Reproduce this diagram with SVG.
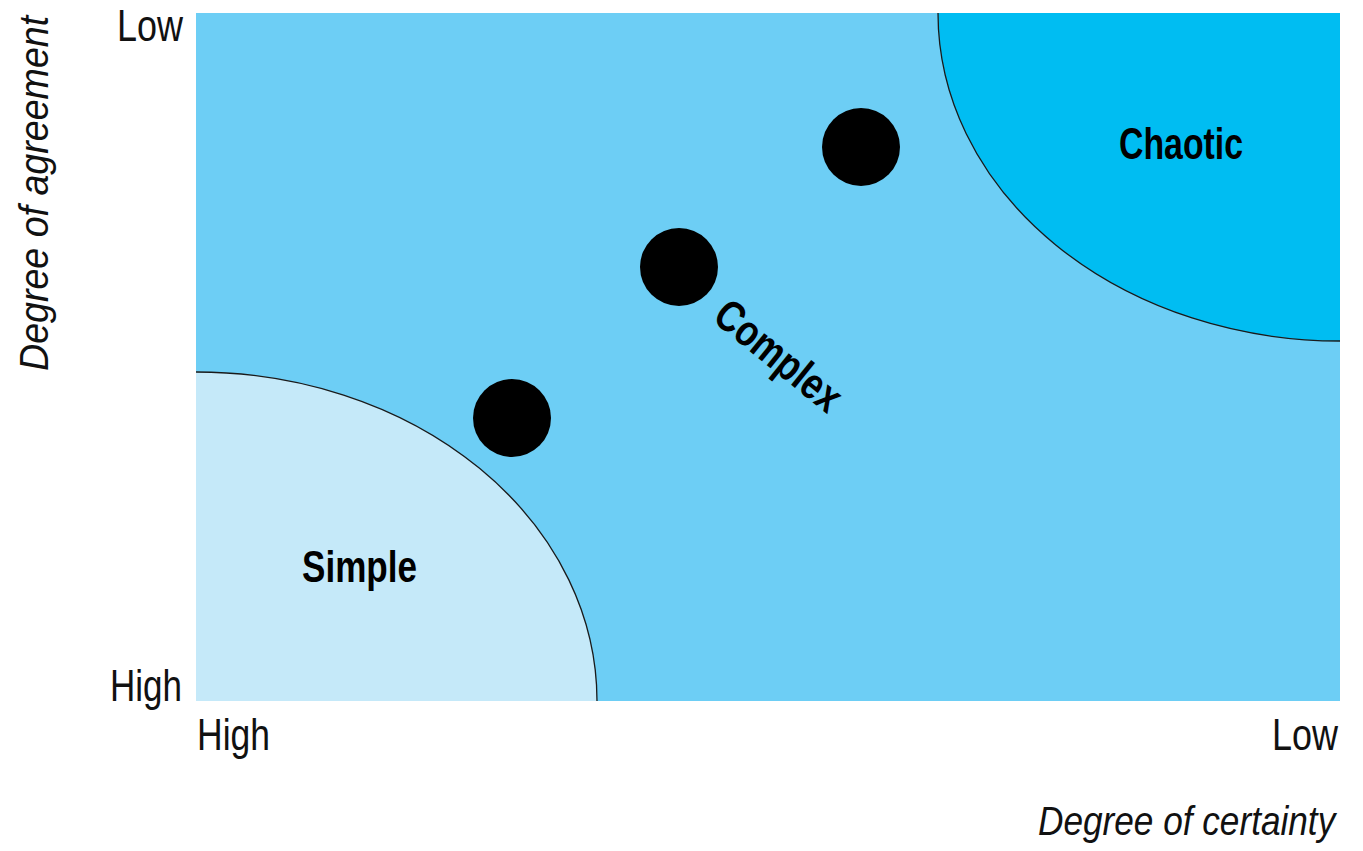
<svg xmlns="http://www.w3.org/2000/svg" width="1363" height="851" viewBox="0 0 1363 851">
<style>
.lbl{font-family:"Liberation Sans Narrow","Liberation Sans",Arial,sans-serif;font-size:44px;fill:#111}
.ax{font-family:"Liberation Sans","Arial",sans-serif;font-size:40px;font-style:italic;fill:#111}
.zone{font-family:"Liberation Sans Narrow","Liberation Sans",Arial,sans-serif;font-size:44px;font-weight:bold;fill:#000}
.edge{stroke:#1a1a1a;stroke-width:1.3}
.dot{fill:#000}
</style>
<defs>
<clipPath id="plot"><rect x="196" y="13" width="1144" height="688"/></clipPath>
</defs>
<g id="complex">
<rect x="196" y="13" width="1144" height="688" fill="#6dcef5"/>
<text class="zone" transform="translate(711,320) rotate(39)" textLength="150" lengthAdjust="spacingAndGlyphs">Complex</text>
</g>
<g id="simple" clip-path="url(#plot)">
<ellipse class="edge" cx="196" cy="701" rx="401" ry="329" fill="#c5e9f9"/>
<text class="zone" x="302" y="582" textLength="115" lengthAdjust="spacingAndGlyphs">Simple</text>
</g>
<g id="chaotic" clip-path="url(#plot)">
<ellipse class="edge" cx="1340" cy="13" rx="402" ry="328" fill="#00bdf2"/>
<text class="zone" x="1119" y="159" textLength="124" lengthAdjust="spacingAndGlyphs">Chaotic</text>
</g>
<g id="dot1"><circle class="dot" cx="512" cy="418" r="39"/></g>
<g id="dot2"><circle class="dot" cx="679" cy="267" r="39"/></g>
<g id="dot3"><circle class="dot" cx="861" cy="147" r="39"/></g>
<g id="connectors"></g>
<g id="axes">
<text class="lbl" x="117" y="41" textLength="66" lengthAdjust="spacingAndGlyphs">Low</text>
<text class="lbl" x="110" y="701" textLength="72" lengthAdjust="spacingAndGlyphs">High</text>
<text class="lbl" x="197" y="750" textLength="73" lengthAdjust="spacingAndGlyphs">High</text>
<text class="lbl" x="1272" y="750" textLength="66" lengthAdjust="spacingAndGlyphs">Low</text>
<text class="ax" transform="translate(1038,835) scale(0.88,1)">Degree of certainty</text>
<text class="ax" transform="translate(48,371) rotate(-90) scale(0.94,1)">Degree of agreement</text>
</g>
</svg>
